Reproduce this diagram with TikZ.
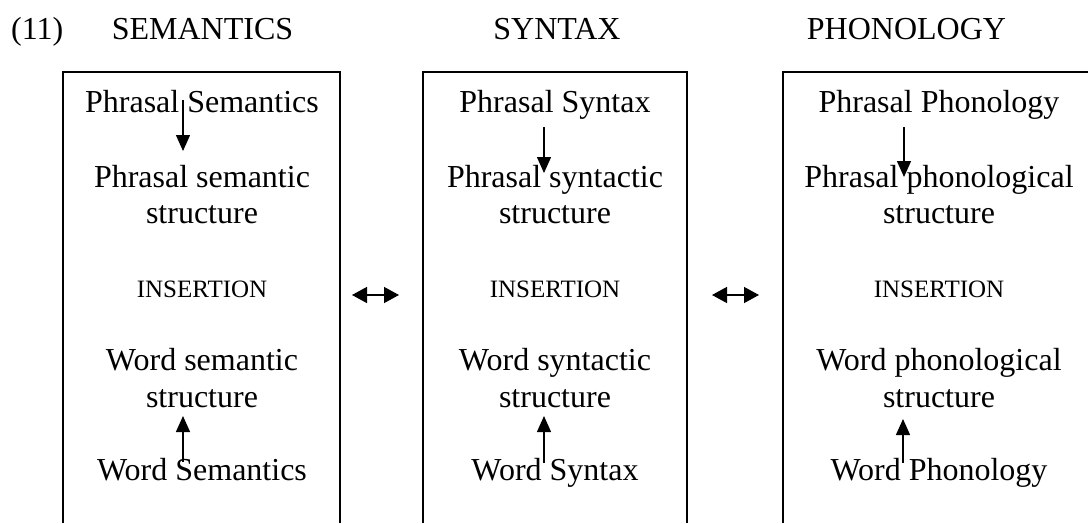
\documentclass[tikz,border=0pt]{standalone}
\usepackage{fontspec}
\setmainfont{Liberation Serif}
\usetikzlibrary{arrows.meta}
\begin{document}
\begin{tikzpicture}[x=1pt,y=-1pt,
  txt/.style={anchor=base,inner sep=0pt,font=\fontsize{32}{36}\selectfont},
  ins/.style={anchor=base,inner sep=0pt,font=\fontsize{25}{28}\selectfont},
  boxline/.style={line width=1.6pt},
  vertarr/.style={line width=1.4pt,-{Triangle[width=14pt,length=16pt]}},
  dblarr/.style={line width=1.4pt,{Triangle[width=16pt,length=15pt]}-{Triangle[width=16pt,length=15pt]}}]
\useasboundingbox (0,0) rectangle (1088,523);
% headings
\node[txt,anchor=base west] (num) at (11,39) {(11)};
\node[txt] (hsem) at (202.5,39) {SEMANTICS};
\node[txt] (hsyn) at (557,39) {SYNTAX};
\node[txt] (hpho) at (906.5,39) {PHONOLOGY};
% boxes (open at the bottom)
\draw[boxline] (63,523) -- (63,72) -- (340,72) -- (340,523);
\draw[boxline] (423,523) -- (423,72) -- (687,72) -- (687,523);
\draw[boxline] (783,523) -- (783,72) -- (1088,72);
% semantics
\node[txt] (ps) at (202,112) {Phrasal Semantics};
\node[txt] (pssa) at (202,187) {Phrasal semantic};
\node[txt] (pssb) at (202,223) {structure};
\node[ins] (insa) at (202,297) {INSERTION};
\node[txt] (wssa) at (202,370) {Word semantic};
\node[txt] (wssb) at (202,407) {structure};
\node[txt] (ws) at (202,480) {Word Semantics};
% syntax
\node[txt] (px) at (555,112) {Phrasal Syntax};
\node[txt] (pxsa) at (555,187) {Phrasal syntactic};
\node[txt] (pxsb) at (555,223) {structure};
\node[ins] (insb) at (555,297) {INSERTION};
\node[txt] (wxsa) at (555,370) {Word syntactic};
\node[txt] (wxsb) at (555,407) {structure};
\node[txt] (wx) at (555,480) {Word Syntax};
% phonology
\node[txt] (pp) at (939,112) {Phrasal Phonology};
\node[txt] (ppsa) at (939,187) {Phrasal phonological};
\node[txt] (ppsb) at (939,223) {structure};
\node[ins] (insc) at (939,297) {INSERTION};
\node[txt] (wpsa) at (939,370) {Word phonological};
\node[txt] (wpsb) at (939,407) {structure};
\node[txt] (wp) at (939,480) {Word Phonology};
% arrow end points
\coordinate (dsA) at (183,100); \coordinate (deA) at (183,151);
\coordinate (dsB) at (544,127); \coordinate (deB) at (544,173);
\coordinate (dsC) at (904,127); \coordinate (deC) at (904,177);
\coordinate (usA) at (183,462); \coordinate (ueA) at (183,416);
\coordinate (usB) at (544,463); \coordinate (ueB) at (544,416);
\coordinate (usC) at (903,463); \coordinate (ueC) at (903,419);
\coordinate (lrA) at (352,295); \coordinate (rrA) at (399,295);
\coordinate (lrB) at (712,295); \coordinate (rrB) at (759,295);
\draw[vertarr] (dsA) -- (deA);
\draw[vertarr] (dsB) -- (deB);
\draw[vertarr] (dsC) -- (deC);
\draw[vertarr] (usA) -- (ueA);
\draw[vertarr] (usB) -- (ueB);
\draw[vertarr] (usC) -- (ueC);
\draw[dblarr] (lrA) -- (rrA);
\draw[dblarr] (lrB) -- (rrB);
\end{tikzpicture}
\end{document}
